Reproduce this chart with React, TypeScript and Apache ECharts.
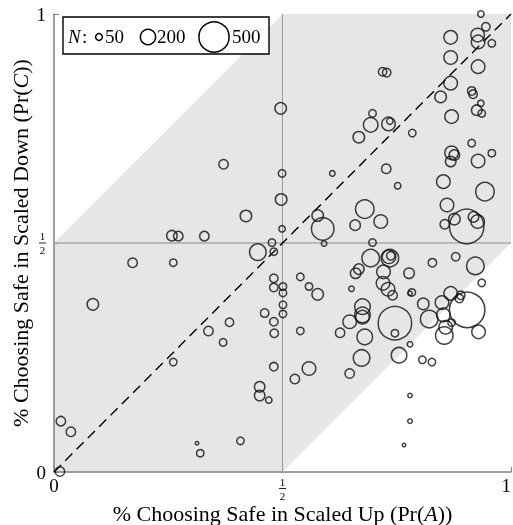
import React, { useEffect, useRef } from 'react';
import * as echarts from 'echarts';

// Scatter data: Pr(A) (x), Pr(C) (y), N (sample size)
const pointsX = [
  0.934, 0.945, 0.927, 0.928, 0.958, 0.868, 0.868, 0.928, 0.868, 0.846, 0.914, 0.917, 0.934, 0.925, 0.936, 0.870,
  0.719, 0.728, 0.496, 0.697, 0.693, 0.732, 0.735,
  0.667, 0.784, 0.914, 0.958, 0.870, 0.876, 0.868, 0.928, 0.727, 0.609, 0.752, 0.852, 0.943, 0.680, 0.860, 0.577,
  0.588, 0.715, 0.659, 0.903, 0.876, 0.855, 0.918, 0.927, 0.591, 0.697, 0.693, 0.733, 0.735, 0.737, 0.667, 0.660,
  0.721, 0.777, 0.828, 0.879, 0.922, 0.539, 0.499, 0.497, 0.499,
  0.371, 0.420, 0.258, 0.272, 0.329, 0.172, 0.261, 0.446, 0.477, 0.481,
  0.481, 0.481, 0.501, 0.501, 0.501, 0.501, 0.461, 0.481, 0.482, 0.558, 0.539, 0.384, 0.338, 0.370, 0.261, 0.085,
  0.481, 0.450, 0.450, 0.470, 0.015, 0.037, 0.013, 0.313, 0.320, 0.408,
  0.936, 0.720, 0.731, 0.741, 0.651, 0.783, 0.779, 0.868, 0.890, 0.887, 0.904, 0.849, 0.808, 0.675, 0.675, 0.675,
  0.647, 0.626, 0.746, 0.746, 0.821, 0.852, 0.870, 0.857, 0.854, 0.929, 0.680, 0.779, 0.673, 0.755, 0.806, 0.827,
  0.577, 0.558, 0.527, 0.647, 0.779, 0.779, 0.766,
];
const pointsY = [
  1.000, 0.972, 0.954, 0.939, 0.936, 0.949, 0.905, 0.885, 0.849, 0.819, 0.832, 0.825, 0.805, 0.790, 0.783, 0.776,
  0.874, 0.872, 0.794, 0.783, 0.758, 0.760, 0.766,
  0.731, 0.740, 0.718, 0.696, 0.697, 0.692, 0.678, 0.679, 0.662, 0.652, 0.625, 0.634, 0.612, 0.574, 0.583, 0.560,
  0.531, 0.547, 0.539, 0.536, 0.552, 0.541, 0.557, 0.547, 0.499, 0.501, 0.467, 0.470, 0.467, 0.472, 0.443, 0.434,
  0.437, 0.434, 0.457, 0.470, 0.450, 0.426, 0.652, 0.595, 0.531,
  0.672, 0.559, 0.516, 0.515, 0.515, 0.457, 0.457, 0.480, 0.501, 0.481,
  0.423, 0.403, 0.405, 0.391, 0.365, 0.345, 0.347, 0.328, 0.303, 0.405, 0.308, 0.327, 0.308, 0.283, 0.240, 0.366,
  0.230, 0.186, 0.167, 0.157, 0.111, 0.088, 0.001, 0.063, 0.041, 0.068,
  0.413, 0.412, 0.399, 0.386, 0.400, 0.392, 0.390, 0.390, 0.386, 0.379, 0.354, 0.370, 0.367, 0.361, 0.343, 0.338,
  0.328, 0.304, 0.325, 0.303, 0.334, 0.343, 0.326, 0.316, 0.298, 0.306, 0.295, 0.279, 0.249, 0.255, 0.245, 0.240,
  0.388, 0.226, 0.203, 0.215, 0.167, 0.111, 0.059,
];
const pointsN = [
  46, 80, 170, 170, 62, 170, 170, 170, 170, 134, 80, 80, 46, 116, 62, 170,
  80, 80, 134, 62, 188, 170, 46,
  134, 62, 62, 62, 170, 116, 116, 170, 98, 36, 46, 170, 266, 266, 170, 134,
  346, 170, 116, 586, 134, 98, 116, 170, 36, 62, 246, 170, 246, 80, 116, 116,
  170, 116, 80, 80, 246, 62, 62, 134, 46,
  98, 134, 116, 98, 98, 98, 62, 226, 62, 62,
  80, 80, 62, 62, 62, 62, 80, 80, 80, 62, 62, 80, 98, 62, 62, 134,
  80, 116, 116, 46, 98, 98, 98, 18, 62, 62,
  62, 170, 170, 98, 36, 62, 26, 170, 80, 80, 606, 170, 134, 206, 206, 170,
  170, 98, 566, 62, 246, 170, 62, 170, 246, 170, 206, 36, 226, 206, 62, 62,
  134, 170, 98, 98, 26, 26, 18,
];

const legendN = [50, 200, 500];
const legendLabels = ['50', '200', '500'];

// shaded band |Pr(C) - Pr(A)| < 1/2
const bandX = [0, 0, 0.5, 1, 1, 0.5];
const bandY = [0, 0.5, 1, 1, 0.5, 0];

const FONT = '"Liberation Serif", "DejaVu Serif", serif';

// marker outer diameter (px) for a given N, matching the legend keys
function diameter(n: number): number {
  if (n <= 50) return 8.3 * Math.sqrt(n / 50);
  if (n <= 200) return 8.3 + ((n - 50) * 8.4) / 150;
  return 16.7 + ((n - 200) * 15) / 300;
}

const tickFormatter = (v: number) => (v === 0.5 ? '{n|1}\n{b| }\n{d|2}' : String(v));
const fracRich = {
  n: { fontSize: 11, lineHeight: 11, fontFamily: FONT, color: '#000', align: 'center' },
  b: { width: 7, height: 1, lineHeight: 3, fontSize: 1, backgroundColor: '#222', align: 'center' },
  d: { fontSize: 11, lineHeight: 11, fontFamily: FONT, color: '#000', align: 'center' },
  i: { fontStyle: 'italic', fontSize: 22, fontFamily: FONT, color: '#000' },
};

export default function App() {
  const ref = useRef<HTMLDivElement>(null);
  useEffect(() => {
    if (!ref.current) return;
    const chart = echarts.init(ref.current, null, { renderer: 'svg' });
    const axisCommon = {
      type: 'value',
      min: 0,
      max: 1,
      interval: 0.5,
      nameLocation: 'middle',
      nameMoveOverlap: false,
      nameTextStyle: { fontFamily: FONT, fontSize: 22, color: '#000', rich: fracRich },
      axisLine: { show: true, onZero: false, lineStyle: { color: '#808080', width: 1.5 } },
      axisTick: { show: true, inside: true, length: 5, lineStyle: { color: '#808080', width: 1 } },
      splitLine: { show: false },
      axisLabel: {
        formatter: tickFormatter,
        fontFamily: FONT,
        fontSize: 19,
        color: '#000',
        rich: fracRich,
      },
    };
    const legendCx = [99, 148, 214];
    const legendTx = [105, 157, 232];
    const legendY = 36;
    const graphics: any[] = [
      {
        type: 'rect',
        shape: { x: 63, y: 17, width: 206, height: 37 },
        style: { fill: '#fff', stroke: '#000', lineWidth: 1.4 },
        z: 100,
      },
      {
        type: 'text',
        x: 68,
        y: legendY,
        style: { text: 'N', font: 'italic 19px ' + FONT, fill: '#000', verticalAlign: 'middle' },
        z: 101,
      },
      {
        type: 'text',
        x: 82,
        y: legendY,
        style: { text: ':', font: '19px ' + FONT, fill: '#000', verticalAlign: 'middle' },
        z: 101,
      },
    ];
    legendN.forEach((n, i) => {
      graphics.push({
        type: 'circle',
        shape: { cx: legendCx[i], cy: legendY + 1, r: (diameter(n) - 1.5) / 2 },
        style: { fill: 'none', stroke: '#000', lineWidth: 1.5 },
        z: 101,
      });
      graphics.push({
        type: 'text',
        x: legendTx[i],
        y: legendY,
        style: { text: legendLabels[i], font: '19px ' + FONT, fill: '#000', verticalAlign: 'middle' },
        z: 101,
      });
    });

    const option = {
      animation: false,
      grid: { left: 54, right: 2, top: 14, bottom: 53, containLabel: false, outerBoundsMode: 'none' },
      xAxis: {
        ...axisCommon,
        name: '% Choosing Safe in Scaled Up (Pr({i|A}))',
        nameGap: 30,
        axisLabel: { ...axisCommon.axisLabel, margin: 4, alignMaxLabel: 'right' },
      },
      yAxis: {
        ...axisCommon,
        name: '% Choosing Safe in Scaled Down (Pr({i|C}))',
        nameGap: 23,
        axisLabel: { ...axisCommon.axisLabel, margin: 8 },
      },
      graphic: graphics,
      series: [
        {
          type: 'custom',
          silent: true,
          z: 0,
          clip: false,
          data: [[0, 0]],
          renderItem: (_params: any, api: any) => {
            const pts = bandX.map((x, i) => api.coord([x, bandY[i]]));
            return { type: 'polygon', shape: { points: pts }, style: { fill: '#e6e6e6' } };
          },
        },
        {
          type: 'line',
          silent: true,
          z: 1,
          symbol: 'none',
          data: [[0.5, 0], [0.5, 1]],
          lineStyle: { color: '#999999', width: 1 },
        },
        {
          type: 'line',
          silent: true,
          z: 1,
          symbol: 'none',
          data: [[0, 0.5], [1, 0.5]],
          lineStyle: { color: '#aaaaaa', width: 1.5 },
        },
        {
          type: 'line',
          silent: true,
          z: 2,
          symbol: 'none',
          data: [[0, 0], [1, 1]],
          lineStyle: { color: '#000', width: 1.4, type: [10, 6] },
        },
        {
          type: 'scatter',
          z: 5,
          clip: false,
          data: pointsX.map((x, i) => [x, pointsY[i], pointsN[i]]),
          symbol: 'circle',
          symbolSize: (v: number[]) => Math.max(diameter(v[2]) - 1.5, 2),
          itemStyle: { color: 'rgba(0,0,0,0)', borderColor: '#111', borderWidth: 1.5 },
        },
      ],
    };
    chart.setOption(option as any);
    return () => chart.dispose();
  }, []);
  return <div ref={ref} style={{ position: 'fixed', left: 0, top: 0, width: 513, height: 525 }} />;
}
